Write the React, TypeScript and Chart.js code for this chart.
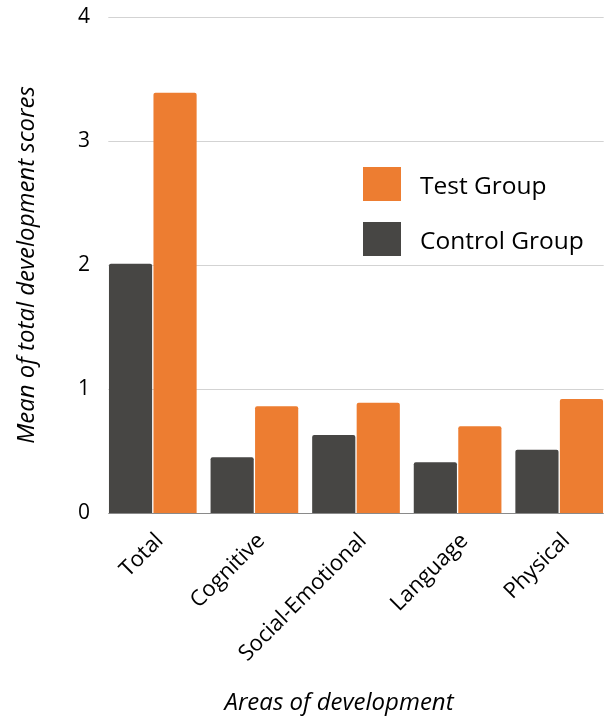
import React, { useEffect, useRef } from "react";
import { Chart, registerables } from "chart.js";

Chart.register(...registerables);

const categories = ["Total", "Cognitive", "Social-Emotional", "Language", "Physical"];
const controlValues = [2.01, 0.45, 0.63, 0.41, 0.51];
const testValues = [3.39, 0.86, 0.89, 0.7, 0.92];
const yTickValues = [0, 1, 2, 3, 4];
const seriesNames = ["Control Group", "Test Group"];
const xTitle = "Areas of development";
const yTitle = "Mean of total development scores";

const FONT = "'Open Sans', 'DejaVu Sans', sans-serif";
const CONTROL_COLOR = "#474644";
const TEST_COLOR = "#ED7D31";
const CAT_PCT = 0.876;

const insetGrid = {
  id: "insetGrid",
  beforeDatasetsDraw(chart: any) {
    const { ctx } = chart;
    const x = chart.scales.x;
    const y = chart.scales.y;
    const step = x.getPixelForValue(1) - x.getPixelForValue(0);
    const x1 = x.getPixelForValue(0) - (step * CAT_PCT) / 2;
    const x2 = x.getPixelForValue(categories.length - 1) + (step * CAT_PCT) / 2;
    ctx.save();
    ctx.lineWidth = 1;
    ctx.strokeStyle = "#d3d3d3";
    y.ticks.forEach((t: any) => {
      if (t.value === 0) return;
      const py = Math.round(y.getPixelForValue(t.value)) + 0.5;
      ctx.beginPath();
      ctx.moveTo(x1, py);
      ctx.lineTo(x2, py);
      ctx.stroke();
    });
    ctx.restore();
  },
  afterDatasetsDraw(chart: any) {
    const { ctx } = chart;
    const x = chart.scales.x;
    const y = chart.scales.y;
    const step = x.getPixelForValue(1) - x.getPixelForValue(0);
    const x1 = x.getPixelForValue(0) - (step * CAT_PCT) / 2;
    const x2 = x.getPixelForValue(categories.length - 1) + (step * CAT_PCT) / 2;
    const py = Math.round(y.getPixelForValue(0)) + 0.5;
    ctx.save();
    ctx.lineWidth = 1;
    ctx.strokeStyle = "#8a8a8a";
    ctx.beginPath();
    ctx.moveTo(x1, py);
    ctx.lineTo(x2, py);
    ctx.stroke();
    // x-axis title
    ctx.fillStyle = "#000";
    ctx.font = `italic 24px ${FONT}`;
    ctx.textAlign = "center";
    ctx.textBaseline = "middle";
    ctx.fillText(xTitle, 339, 703);
    ctx.restore();
  },
};

export default function App() {
  const ref = useRef<HTMLCanvasElement>(null);

  useEffect(() => {
    if (!ref.current) return;
    const chart = new Chart(ref.current, {
      type: "bar",
      data: {
        labels: categories,
        datasets: [
          {
            label: seriesNames[0],
            data: controlValues,
            backgroundColor: CONTROL_COLOR,
            borderRadius: 2,
            barPercentage: 0.97,
            categoryPercentage: CAT_PCT,
          },
          {
            label: seriesNames[1],
            data: testValues,
            backgroundColor: TEST_COLOR,
            borderRadius: 2,
            barPercentage: 0.97,
            categoryPercentage: CAT_PCT,
          },
        ],
      },
      options: {
        animation: false,
        responsive: true,
        maintainAspectRatio: false,
        layout: { padding: { left: 0, top: 17, right: 4, bottom: 0 } },
        plugins: {
          legend: { display: false },
          tooltip: { enabled: false },
        },
        scales: {
          x: {
            grid: { display: false },
            border: { display: false },
            ticks: {
              autoSkip: false,
              minRotation: 45,
              maxRotation: 45,
              labelOffset: 7,
              padding: 7,
              color: "#000",
              font: { family: FONT, size: 22 },
            },
            afterFit: (s: any) => {
              s.height = 209;
            },
          },
          y: {
            min: 0,
            max: 4,
            afterBuildTicks: (s: any) => {
              s.ticks = yTickValues.map((v) => ({ value: v }));
            },
            grid: { display: false, drawTicks: false },
            border: { display: false },
            ticks: {
              padding: 12,
              color: "#000",
              font: { family: FONT, size: 21 },
            },
            title: {
              display: true,
              text: yTitle,
              color: "#000",
              font: { family: FONT, size: 24, style: "italic" },
              padding: { top: 13, bottom: 0 },
            },
            afterFit: (s: any) => {
              s.width = 102;
              s.paddingTop = 0;
              s.paddingBottom = 0;
            },
          },
        },
      },
      plugins: [insetGrid],
    });
    return () => chart.destroy();
  }, []);

  const legendItems = [
    { name: seriesNames[1], color: TEST_COLOR, top: 167 },
    { name: seriesNames[0], color: CONTROL_COLOR, top: 222 },
  ];

  return (
    <div style={{ position: "absolute", left: 0, top: 0, width: 614, height: 722, background: "#fff" }}>
      <canvas ref={ref} />
      {legendItems.map((it) => (
        <div
          key={it.name}
          style={{
            position: "absolute",
            left: 363,
            top: it.top,
            height: 34,
            display: "flex",
            alignItems: "center",
            fontFamily: FONT,
            fontSize: 24.5,
            color: "#000",
            whiteSpace: "nowrap",
          }}
        >
          <span style={{ display: "inline-block", width: 38, height: 34, background: it.color, marginRight: 19 }} />
          <span>{it.name}</span>
        </div>
      ))}
    </div>
  );
}
